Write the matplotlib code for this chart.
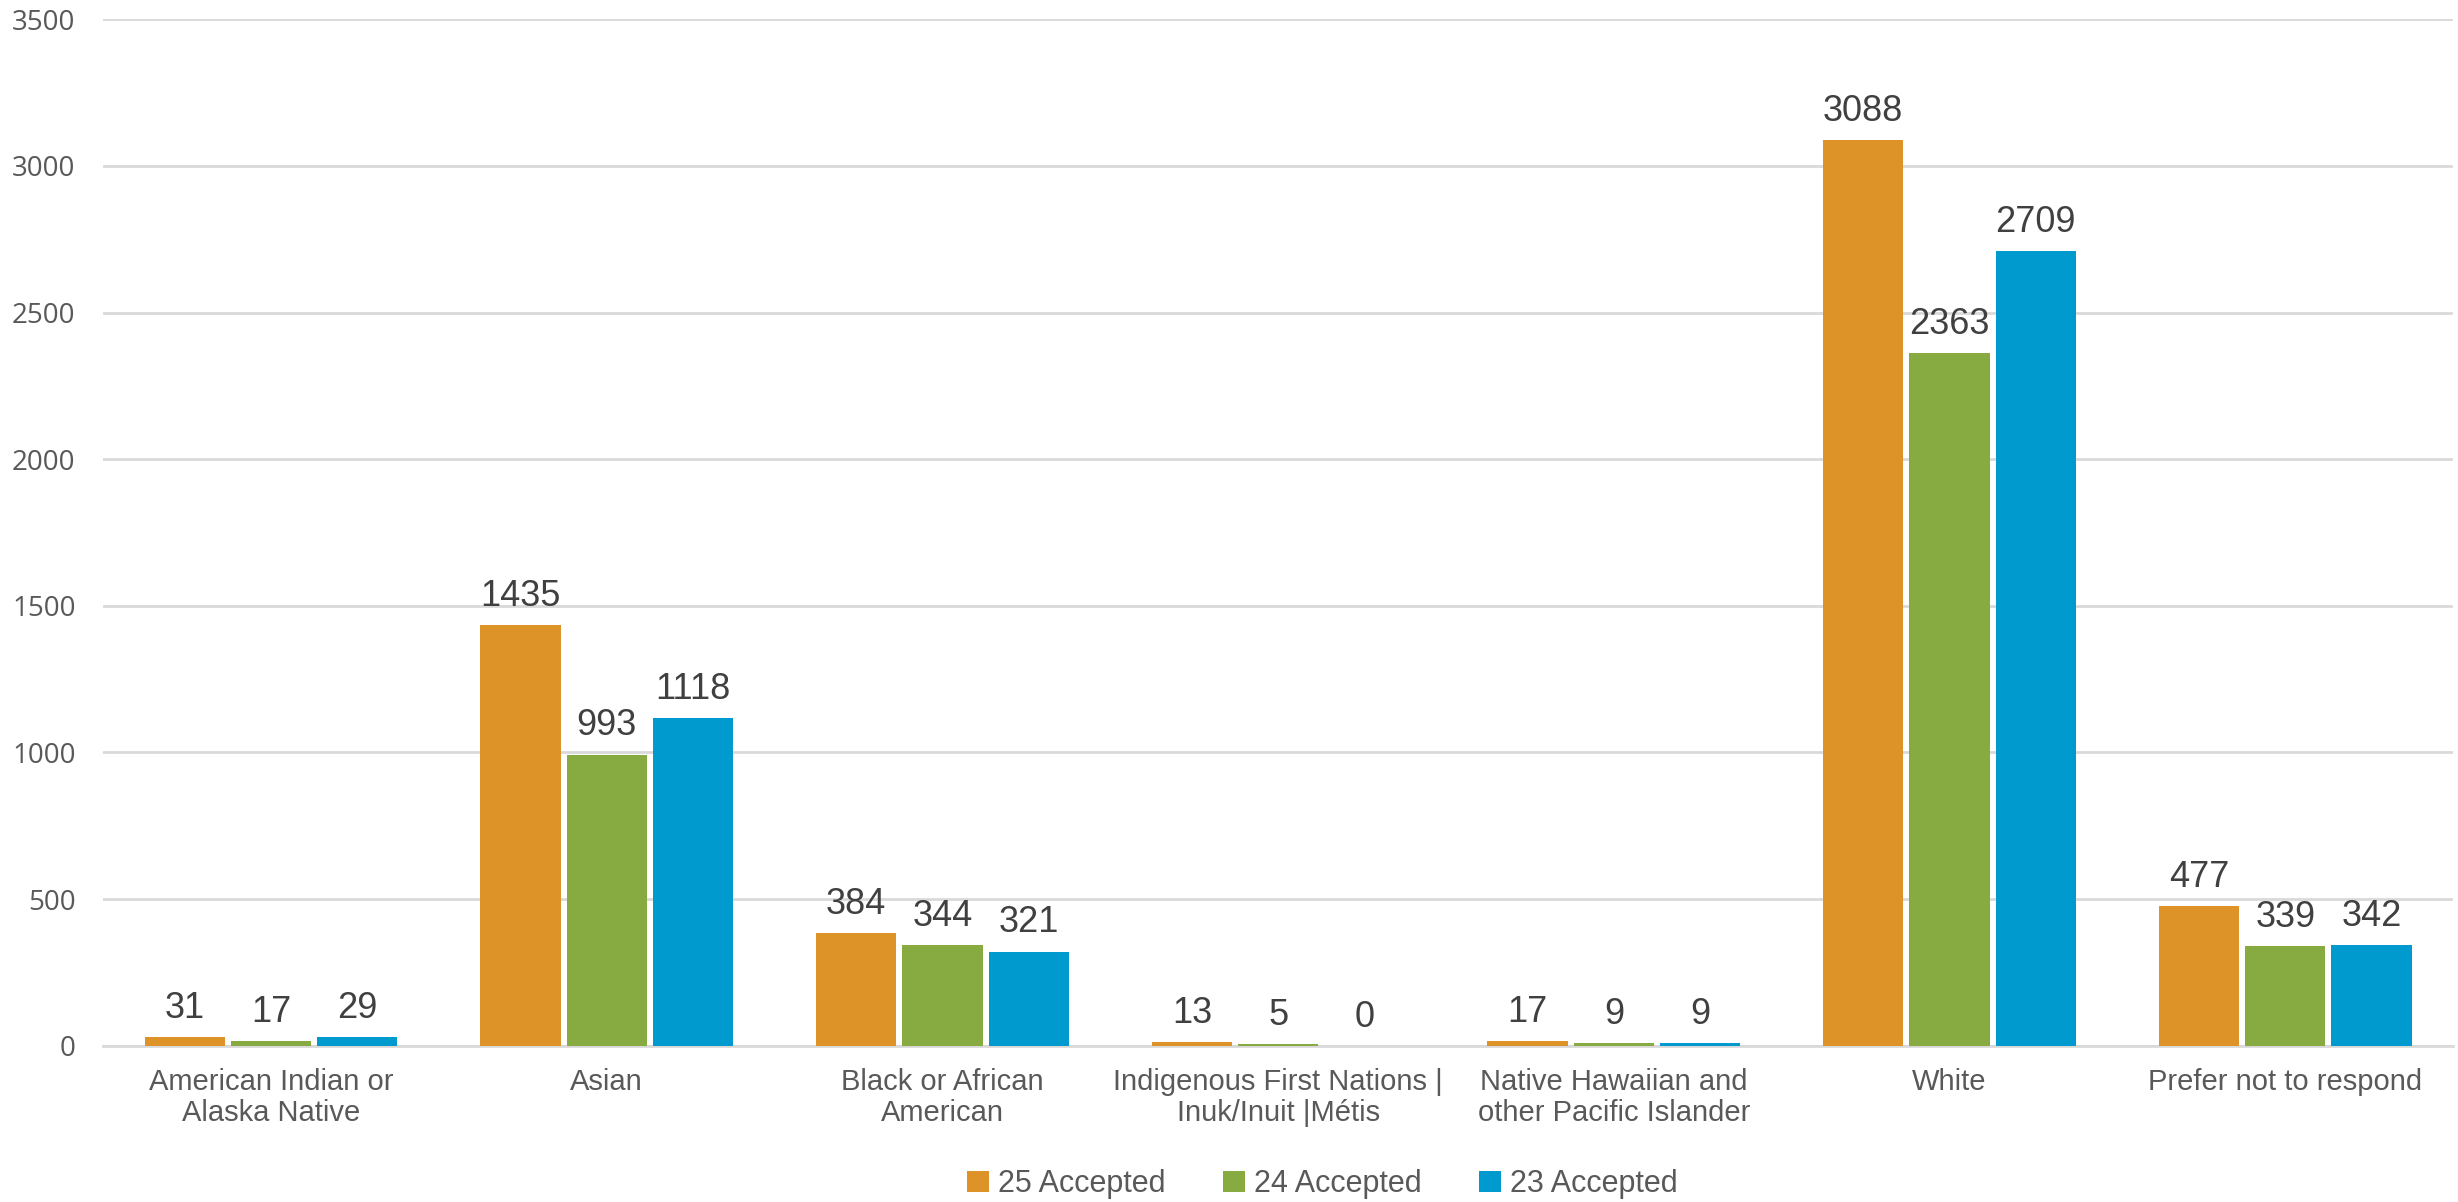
import matplotlib.pyplot as plt
import numpy as np

# Categories and series values
categories = ["American Indian or\nAlaska Native", "Asian", "Black or African\nAmerican",
              "Indigenous First Nations |\nInuk/Inuit |Métis", "Native Hawaiian and\nother Pacific Islander",
              "White", "Prefer not to respond"]
accepted_25 = [31, 1435, 384, 13, 17, 3088, 477]
accepted_24 = [17, 993, 344, 5, 9, 2363, 339]
accepted_23 = [29, 1118, 321, 0, 9, 2709, 342]
series_names = ["25 Accepted", "24 Accepted", "23 Accepted"]
colors = ["#DD9328", "#88AB41", "#009ACF"]

plt.rcParams['font.family'] = ['Liberation Sans', 'DejaVu Sans']

fig = plt.figure(figsize=(24.58, 12.02), dpi=100)
ax = fig.add_axes([0.042, 0.13, 0.956, 0.854])

x = np.arange(len(categories))
width = 0.239
step = 0.257
handles = []
for i, (vals, name, col) in enumerate(zip([accepted_25, accepted_24, accepted_23], series_names, colors)):
    bars = ax.bar(x + (i - 1) * step, vals, width, color=col, label=name, zorder=3)
    handles.append(bars)
    for b, v in zip(bars, vals):
        ax.annotate(str(v), (b.get_x() + b.get_width() / 2, v), xytext=(0, 8),
                    textcoords='offset points', ha='center', va='bottom',
                    fontsize=26, color='#404040')

ax.set_ylim(0, 3500)
ax.set_xlim(-0.5, len(categories) - 0.5)
ax.set_yticks(range(0, 3501, 500))
ax.yaxis.grid(True, color='#D9D9D9', linewidth=2, zorder=0)
for s in ['top', 'right', 'left']:
    ax.spines[s].set_visible(False)
ax.spines['bottom'].set_color('#D9D9D9')
ax.spines['bottom'].set_linewidth(2)
ax.tick_params(axis='both', length=0)
ax.tick_params(axis='y', labelsize=20, labelcolor='#595959', pad=20)
ax.tick_params(axis='x', labelsize=21, labelcolor='#595959', pad=16)
for lbl in ax.get_yticklabels():
    lbl.set_family(['Open Sans', 'DejaVu Sans'])
ax.set_xticks(x)
ax.set_xticklabels(categories, linespacing=1.15)

fig.legend(handles=handles, labels=series_names, loc='center', bbox_to_anchor=(0.538, 0.015),
           ncol=3, frameon=False, fontsize=22, handlelength=0.7, handleheight=0.7,
           handletextpad=0.3, columnspacing=1.9, labelcolor='#595959')

fig.savefig('out.png', dpi=100, facecolor='white')
